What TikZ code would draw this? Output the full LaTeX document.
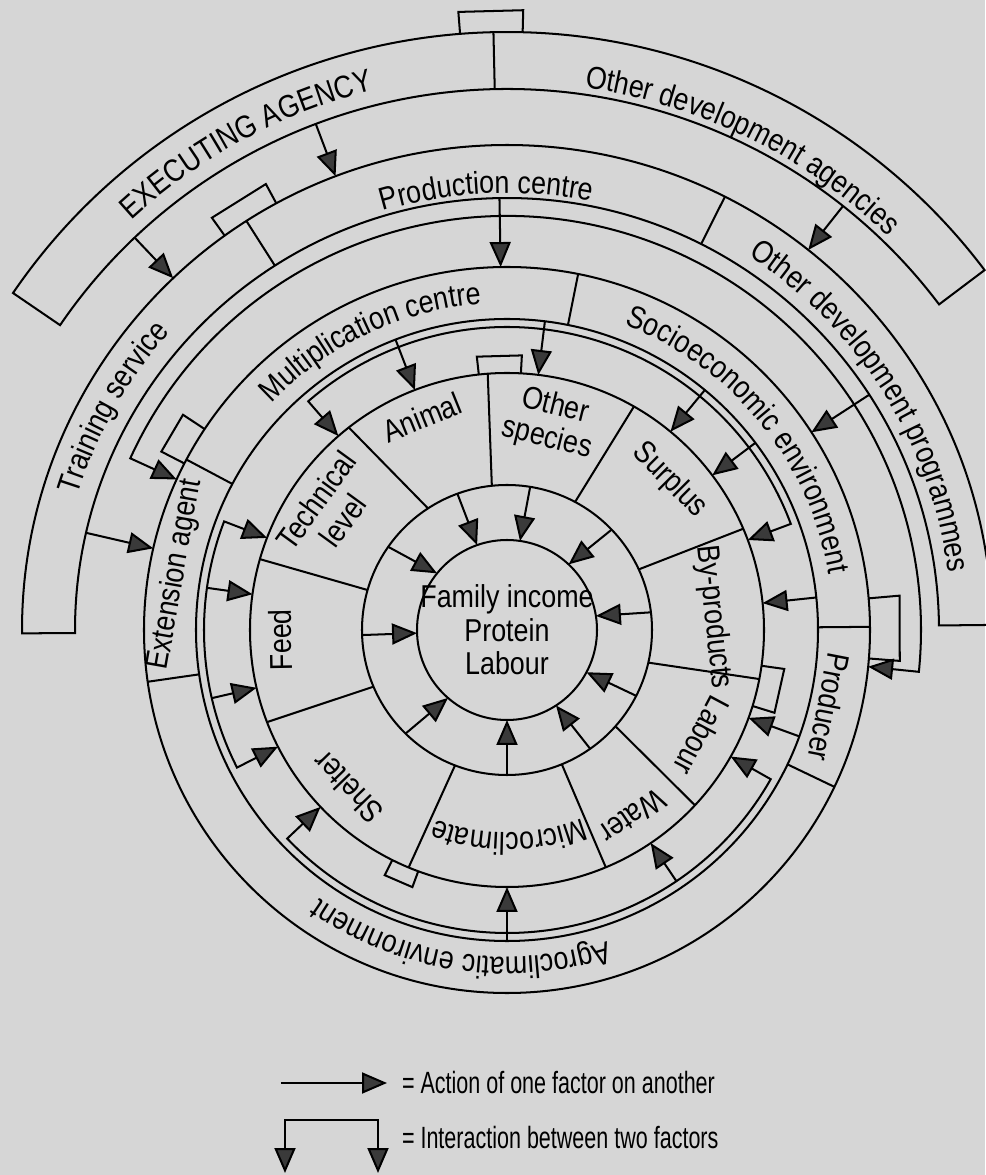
\documentclass[tikz,border=0pt]{standalone}
\usepackage{fontspec}
\setmainfont{Liberation Sans}[FakeStretch=0.85]
\newfontfamily\legendfamily{Liberation Sans}[FakeStretch=0.7]
\usetikzlibrary{arrows.meta, decorations.text}
\definecolor{paper}{RGB}{214,214,214}
\definecolor{tipfill}{RGB}{58,58,58}
\newcommand\ringfont{\fontsize{18}{19}\selectfont}
\newcommand\legendfont{\legendfamily\fontsize{17.5}{19}\selectfont}

\begin{document}
\begin{tikzpicture}[x=0.02cm, y=0.02cm, line width=1.15pt,
        >={Triangle[length=0.5cm, width=0.42cm, fill=tipfill]},
        lbl/.style={font=\ringfont, inner sep=0pt, align=center},
        key/.style={font=\legendfont, inner sep=0pt, anchor=west},
        arclabel/.style={decorate, decoration={text along path,
                         text align=center, text={|\ringfont|#1}}}]
  \fill[paper] (-507,-545) rectangle (478,630);
  \useasboundingbox (-507,-545) rectangle (478,630);

  % rings
  \draw (0,0) circle[radius=90] (0,0) circle[radius=145] (0,0) circle[radius=257];
  \draw (0,0) circle[radius=311] (0,0) circle[radius=363];
  \draw (180.4:432) -- (180.4:485) arc[start angle=180.4, end angle=0.6, radius=485]
        -- (0.6:432) arc[start angle=0.6, end angle=180.4, radius=432] -- cycle;
  \draw (145.7:541) -- (145.7:598) arc[start angle=145.7, end angle=37, radius=598]
        -- (37:541) arc[start angle=37, end angle=145.7, radius=541] -- cycle;

  % dividers
  \foreach \a/\b in {123/128, 96/94.3, 62/60.4, 24.7/23.2, -13/-11, -41.6/-43,
                     -67.8/-67.4, 249/247.5, 203/201, 164/164}
    \draw (\a:145) -- (\b:257);
  \foreach \a in {152, 78.7, 0.5, -25.6, 188.2}
    \draw (\a:311) -- (\a:363);
  \foreach \a in {122.5, 63.3}
    \draw (\a:432) -- (\a:485);
  \draw (91.3:541) -- (91.3:598);

  % small interaction boxes
  \foreach \a/\b/\ri/\ro in {94.5/88.5/598/620, 125.6/118.4/485/507,
                             152.7/146.4/363/389, 5/-4.5/363/394,
                             96.3/86.9/257/275, -8/-17.2/257/280, 243.5/249.8/257/274}
    \draw (\a:\ri) -- (\a:\ro) -- (\b:\ro) -- (\b:\ri);

  % actions
  \foreach \a/\b in {110/109.4, 80.8/81.7, 43.8/46.8, 7/9, -27/-28, -55/-57,
                     -90/-90, 225.6/229, 182/182, 145/141}
    \draw[->] (\a:145) -- (\b:90);
  \foreach \a in {111, 83, 50.5, 37, 6, -20, -90}
    \draw[->] (\a:311) -- (\a:257);
  \foreach \a in {172, 193, 304}
    \draw[->] (\a:303) -- (\a:257);
  \foreach \a in {167, 91, 33}
    \draw[->] (\a:432) -- (\a:363);
  \foreach \a in {133.5, 110.7, 51.6}
    \draw[->] (\a:541) -- (\a:485);

  % interactions
  \draw[<->] (131:257) -- (131:303) arc[start angle=131, end angle=20.5, radius=303] -- (20.5:257);
  \draw[<->] (159:257) -- (159:303) arc[start angle=159, end angle=207, radius=303] -- (207:257);
  \draw[<->] (223.5:257) -- (223.5:303) arc[start angle=223.5, end angle=330.5, radius=303] -- (330.5:257);
  \draw[<->] (155.5:363) -- (155.5:414) arc[start angle=155.5, end angle=-5.8, radius=414] -- (-5.8:363);

  % labels
  \node[lbl] (family) at (0,0) {Family income\\Protein\\Labour};
  \node[lbl, rotate=54] (technical) at (146:214) {Technical\\level};
  \node[lbl, rotate=22] (animal) at (111.8:229) {Animal};
  \node[lbl, rotate=-14] (species) at (78:212) {Other\\species};
  \node[lbl, rotate=-45] (surplus) at (42.6:221) {Surplus};
  \node[lbl, rotate=-84] (byprod) at (3.6:207) {By-products};
  \node[lbl, rotate=-118] (labour) at (-28.6:222) {Labour};
  \node[lbl, rotate=-146] (water) at (-56:225) {Water};
  \node[lbl, rotate=134] (shelter) at (224.8:224) {Shelter};
  \node[lbl, rotate=91] (feed) at (182.5:227) {Feed};
  \node[lbl, rotate=80] (extension) at (170.5:336) {Extension agent};
  \node[lbl, rotate=-101] (producer) at (-13.5:331) {Producer};
  \path[arclabel={Microclimate}] (-59.5:203) arc[start angle=-59.5, end angle=-119.5, radius=203];
  \path[arclabel={Multiplication centre}] (145.3:327) arc[start angle=145.3, end angle=85.3, radius=327];
  \path[arclabel={Socioeconomic environment}] (79.4:327) arc[start angle=79.4, end angle=-0.6, radius=327];
  \path[arclabel={Agroclimatic environment}] (-58.5:327) arc[start angle=-58.5, end angle=-138.5, radius=327];
  \path[arclabel={Training service}] (175.6:450) arc[start angle=175.6, end angle=125.6, radius=450];
  \path[arclabel={Production centre}] (117.7:437) arc[start angle=117.7, end angle=67.7, radius=437];
  \path[arclabel={Other development programmes}] (67.3:445) arc[start angle=67.3, end angle=-2.7, radius=445];
  \path[arclabel={EXECUTING AGENCY}] (143.2:556) arc[start angle=143.2, end angle=93.2, radius=556];
  \path[arclabel={Other development agencies}] (88.9:548) arc[start angle=88.9, end angle=38.9, radius=548];

  % key
  \draw[->] (-226,-453) -- (-120,-453);
  \node[key] (action) at (-106,-453) {= Action of one factor on another};
  \draw[<->] (-222,-543) -- (-222,-490) -- (-129,-490) -- (-129,-543);
  \node[key] (interaction) at (-106,-508) {= Interaction between two factors};
\end{tikzpicture}
\end{document}
